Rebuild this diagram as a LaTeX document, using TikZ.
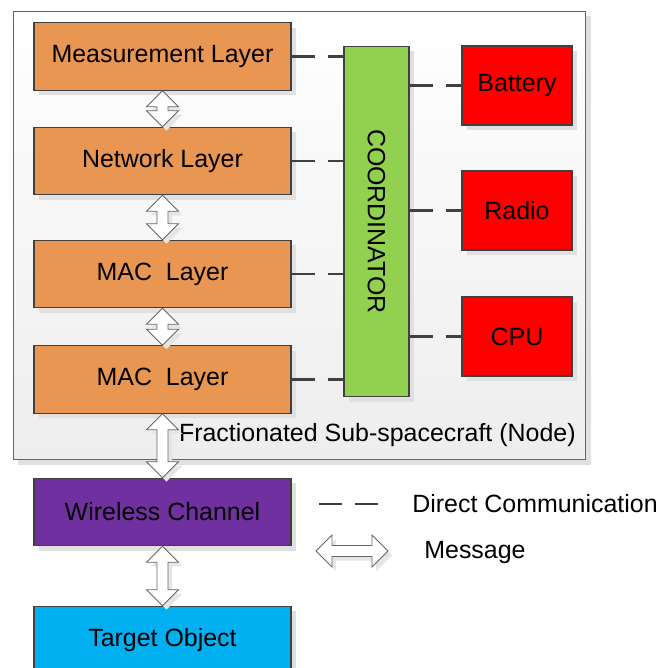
\documentclass[tikz,border=0pt]{standalone}
\usepackage{fontspec}
\setmainfont{Liberation Sans}
\usetikzlibrary{positioning, calc, shadows}

\definecolor{layerorange}{RGB}{233,150,82}
\definecolor{coordgreen}{RGB}{146,208,80}
\definecolor{chanpurple}{RGB}{112,48,160}
\definecolor{targetblue}{RGB}{0,176,240}
\definecolor{edgegray}{RGB}{64,64,64}

\begin{document}
\begin{tikzpicture}[
    x=0.02cm, y=-0.02cm,
    font=\fontsize{14.2}{16}\selectfont,
    box/.style={draw=edgegray, line width=0.6pt, minimum width=5.14cm, minimum height=1.35cm, inner sep=0pt,
      drop shadow={shadow xshift=0.1cm, shadow yshift=-0.1cm, fill=black!12, opacity=1}},
    layer/.style={box, fill=layerorange},
    dev/.style={box, fill=red, minimum width=2.2cm, minimum height=1.58cm},
    lbl/.style={inner sep=0pt, anchor=west},
    link/.style={draw=edgegray, line width=1.7pt, dash pattern=on 0.46cm off 0.26cm},
    msg/.style={draw=gray!80!black, line width=0.5pt, fill=white,
      drop shadow={shadow xshift=0.08cm, shadow yshift=-0.08cm, fill=black!10, opacity=1},
      to path={
        let \p1=($(\tikztostart)!0.32cm!(\tikztotarget)$),
            \p2=($(\tikztotarget)!0.32cm!(\tikztostart)$) in
        -- ($(\p1)!0.32cm!90:(\tikztotarget)$)
        -- ($(\p1)!0.11cm!90:(\tikztotarget)$)
        -- ($(\p2)!0.11cm!-90:(\tikztostart)$)
        -- ($(\p2)!0.32cm!-90:(\tikztostart)$)
        -- (\tikztotarget)
        -- ($(\p2)!0.32cm!90:(\tikztostart)$)
        -- ($(\p2)!0.11cm!90:(\tikztostart)$)
        -- ($(\p1)!0.11cm!-90:(\tikztotarget)$)
        -- ($(\p1)!0.32cm!-90:(\tikztotarget)$)
        -- cycle}}
  ]
  \useasboundingbox (0,0) rectangle (659,668);

  % sub-spacecraft frame
  \node[draw=gray!80!black, line width=0.6pt, top color=white, bottom color=black!7,
    minimum width=11.46cm, minimum height=8.98cm,
    drop shadow={shadow xshift=0.1cm, shadow yshift=-0.1cm, fill=black!12, opacity=1}] (sub) at (299.5,235.5) {};
  \node[inner sep=0pt, anchor=east] (sublabel) at (576,435) {Fractionated Sub-spacecraft (Node)};

  % protocol stack
  \node[layer] (meas) at (162.5,56.5) {Measurement Layer};
  \node[layer] (net) at (162.5,161) {Network Layer};
  \node[layer] (mac1) at (162.5,274) {MAC\ \ Layer};
  \node[layer] (mac2) at (162.5,379.5) {MAC\ \ Layer};
  \node[box, fill=chanpurple] (chan) at (162.5,512) {Wireless Channel};
  \node[box, fill=targetblue] (target) at (162.5,640) {Target Object};

  % coordinator and devices
  \node[box, fill=coordgreen, minimum width=1.3cm, minimum height=7.02cm] (coord) at (376.5,221.5) {};
  \node[rotate=-90] (coordtxt) at (coord.center) {COORDINATOR};
  \node[dev] (bat) at (517,85.5) {Battery};
  \node[dev] (radio) at (517,210.5) {Radio};
  \node[dev] (cpu) at (517,336.5) {CPU};

  % messages
  \draw[msg] (meas.south) to (net.north);
  \draw[msg] (net.south) to (mac1.north);
  \draw[msg] (mac1.south) to (mac2.north);
  \draw[msg] (mac2.south) to (chan.north);
  \draw[msg] (chan.south) to (target.north);

  % direct communication
  \foreach \n in {meas,net,mac1,mac2}
    \draw[link] (\n.east) -- (\n.east -| coord.west);
  \foreach \n in {bat,radio,cpu}
    \draw[link] (\n.west -| coord.east) -- (\n.west);

  % legend
  \coordinate (dcA) at (319,504);
  \coordinate (dcB) at (379,504);
  \draw[link] (dcA) -- (dcB);
  \node[lbl] (dctxt) at (412,504) {Direct Communication};
  \coordinate (msA) at (316,551);
  \coordinate (msB) at (388,551);
  \draw[msg] (msA) to (msB);
  \node[lbl] (mstxt) at (424,553) {Message};
\end{tikzpicture}
\end{document}
